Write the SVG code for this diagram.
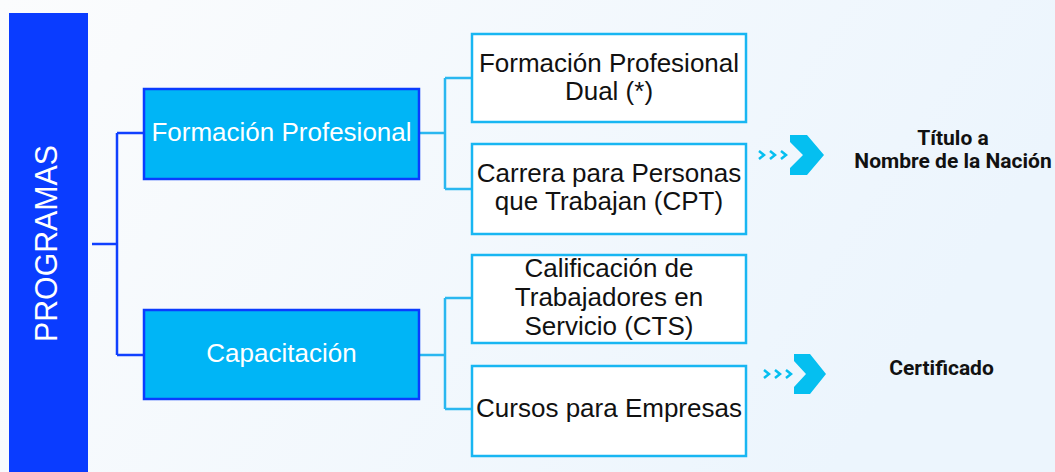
<svg xmlns="http://www.w3.org/2000/svg" width="1055" height="472" viewBox="0 0 1055 472">
<defs>
<linearGradient id="bg" x1="0" y1="0" x2="1" y2="0.3">
<stop offset="0" stop-color="#fbfcfd"/>
<stop offset="1" stop-color="#ecf5fd"/>
</linearGradient>
<style>
.lvl1{fill:#00b5f6;stroke:#0a3cff;stroke-width:2.5}
.lvl2{fill:#ffffff;stroke:#18b6f2;stroke-width:2.5}
.t1{font-family:"Liberation Sans",Arial,sans-serif;font-size:26px;fill:#ffffff;text-anchor:middle}
.t2{font-family:"Liberation Sans",Arial,sans-serif;font-size:26px;fill:#111111;text-anchor:middle}
.res{font-family:Roboto,"Liberation Sans",sans-serif;font-size:21px;font-weight:bold;fill:#111111;text-anchor:middle}
.c1{fill:none;stroke:#1040ff;stroke-width:2.5}
.c2{fill:none;stroke:#2ab7f0;stroke-width:2.5}
.chev{fill:#05bff0}
.small{fill:none;stroke:#05bff0;stroke-width:2.5}
</style>
</defs>
<rect x="0" y="0" width="1055" height="472" fill="url(#bg)"/>

<g id="programas">
<rect x="9" y="13" width="79" height="459" fill="#0a3cff"/>
<text transform="translate(57,243.5) rotate(-90)" font-family="'Liberation Sans',Arial,sans-serif" font-size="31" fill="#ffffff" text-anchor="middle" textLength="197" lengthAdjust="spacingAndGlyphs">PROGRAMAS</text>
</g>

<g id="connectors">
<path class="c1" d="M92,244 H117 M117,133 V355 M117,133 H144 M117,355 H144"/>
<path class="c2" d="M419,133 H445 M445,78 V189 M445,78 H472 M445,189 H472"/>
<path class="c2" d="M419,355 H445 M445,298 V409 M445,298 H472 M445,409 H472"/>
</g>

<g id="formacion-profesional">
<rect class="lvl1" x="144" y="89" width="275" height="90"/>
<text class="t1" x="281.5" y="141">Formación Profesional</text>
</g>

<g id="capacitacion">
<rect class="lvl1" x="144" y="310" width="275" height="89"/>
<text class="t1" x="281.5" y="362">Capacitación</text>
</g>

<g id="fp-dual">
<rect class="lvl2" x="472" y="34" width="274" height="88"/>
<text class="t2" x="609" y="72">Formación Profesional</text>
<text class="t2" x="609" y="100">Dual (*)</text>
</g>

<g id="cpt">
<rect class="lvl2" x="472" y="144" width="274" height="90"/>
<text class="t2" x="609" y="182">Carrera para Personas</text>
<text class="t2" x="609" y="210">que Trabajan (CPT)</text>
</g>

<g id="cts">
<rect class="lvl2" x="472" y="255" width="274" height="88"/>
<text class="t2" x="609" y="277">Calificación de</text>
<text class="t2" x="609" y="306">Trabajadores en</text>
<text class="t2" x="609" y="335">Servicio (CTS)</text>
</g>

<g id="cursos">
<rect class="lvl2" x="472" y="366" width="274" height="90"/>
<text class="t2" x="609" y="417">Cursos para Empresas</text>
</g>

<g id="arrow-titulo">
<path class="small" d="M759,151 L764,155 L759,159 M770,151 L775,155 L770,159 M781,151 L786,155 L781,159"/>
<polygon class="chev" points="790,135 807,135 824,155 807,175 790,175 790,168 803,155 790,142"/>
</g>

<g id="titulo">
<text class="res" x="953" y="145">Título a</text>
<text class="res" x="953" y="168">Nombre de la Nación</text>
</g>

<g id="arrow-certificado">
<path class="small" d="M764,370 L769,374 L764,378 M775,370 L780,374 L775,378 M786,370 L791,374 L786,378"/>
<polygon class="chev" points="794,354 810,354 826,374 810,394 794,394 794,387 806,374 794,361"/>
</g>

<g id="certificado">
<text class="res" x="941.5" y="375">Certificado</text>
</g>
</svg>
